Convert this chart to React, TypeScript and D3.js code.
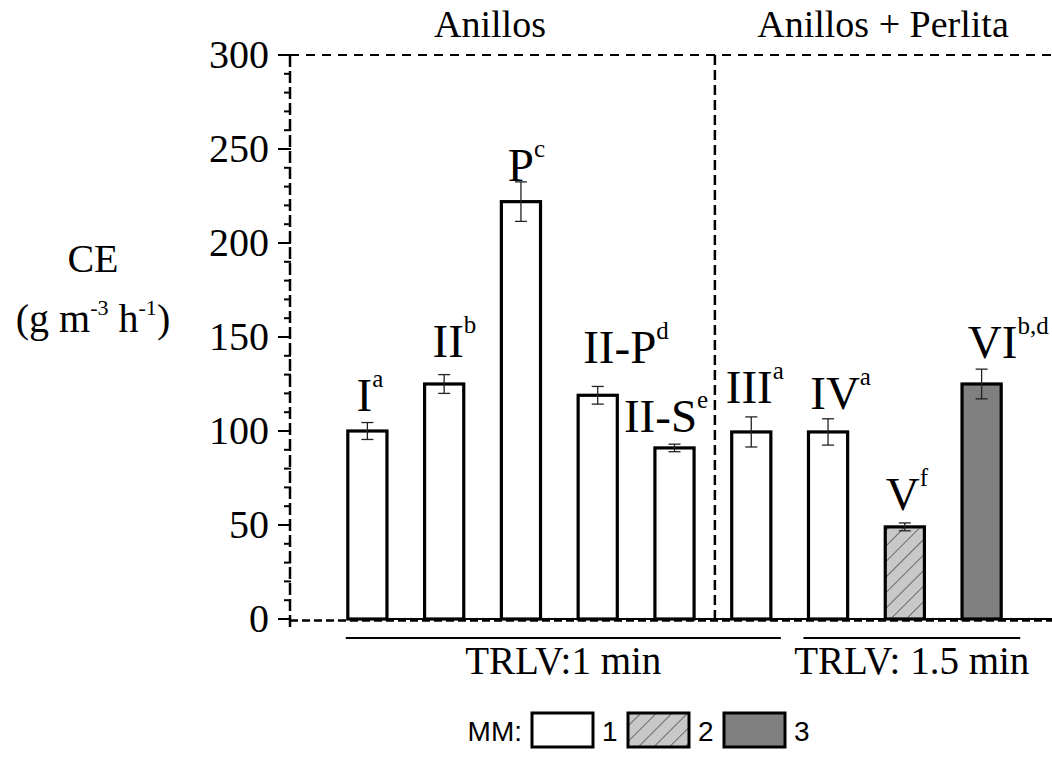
import { useEffect, useRef } from "react";
import * as d3 from "d3";

// bar data
const categories = ["I", "II", "P", "II-P", "II-S", "III", "IV", "V", "VI"];
const letters = ["a", "b", "c", "d", "e", "a", "a", "f", "b,d"];
const values = [100, 125, 222, 119, 91, 99.5, 99.5, 49, 125];
const errors = [4.5, 5, 10.5, 4.7, 2, 8, 7, 2.1, 7.9];
const mmType = [1, 1, 1, 1, 1, 1, 1, 2, 3];

// where each bar label sits, in CE units, and its sideways nudge
const labelAt = [110.6, 139.5, 233, 136, 99.6, 115, 111.7, 58, 138.8];
const labelNudge = [-3, 4, 0, 22, -14, -2, 7, -2, 11];

const yTicks = [0, 50, 100, 150, 200, 250, 300];
const panelTitles = ["Anillos", "Anillos + Perlita"];
const groupLabels = ["TRLV:1 min", "TRLV: 1.5 min"];
const legendItems = ["1", "2", "3"];

const W = 1052,
  H = 769;
const SERIF = "'Liberation Serif', 'Times New Roman', serif";
const SANS = "'Liberation Sans', Arial, sans-serif";

export default function App() {
  const ref = useRef(null);

  useEffect(() => {
    const svg = d3.select(ref.current);
    svg.selectAll("*").remove();

    const axisX = 290;
    const y = d3.scaleLinear().domain([0, 300]).range([619, 55]);
    const x = d3
      .scaleBand()
      .domain(categories)
      .range([329, 1020])
      .paddingInner(0.49)
      .paddingOuter(0.245);
    const bw = x.bandwidth();

    // hatch for MM 2
    const defs = svg.append("defs");
    const pat = defs
      .append("pattern")
      .attr("id", "hatch")
      .attr("patternUnits", "userSpaceOnUse")
      .attr("width", 11)
      .attr("height", 11)
      .attr("patternTransform", "rotate(45)");
    pat.append("rect").attr("width", 11).attr("height", 11).attr("fill", "#c8c8c8");
    pat
      .append("line")
      .attr("x1", 0)
      .attr("y1", 0)
      .attr("x2", 0)
      .attr("y2", 11)
      .attr("stroke", "#2a2a2a")
      .attr("stroke-width", 1.2);

    const fillFor = (m) => (m === 1 ? "white" : m === 2 ? "url(#hatch)" : "#808080");

    // frame: top dashed line, divider, baseline
    svg
      .append("line")
      .attr("x1", axisX)
      .attr("x2", W)
      .attr("y1", y(300))
      .attr("y2", y(300))
      .attr("stroke", "black")
      .attr("stroke-width", 2)
      .attr("stroke-dasharray", "9,7");

    const divX = (x("II-S") + bw + x("III")) / 2 + 2;
    svg
      .append("line")
      .attr("x1", divX)
      .attr("x2", divX)
      .attr("y1", y(300))
      .attr("y2", y(0))
      .attr("stroke", "black")
      .attr("stroke-width", 2.5)
      .attr("stroke-dasharray", "10,5");

    // y axis (dashed spine + ticks)
    svg
      .append("line")
      .attr("x1", axisX)
      .attr("x2", axisX)
      .attr("y1", y(300))
      .attr("y2", y(0) + 11)
      .attr("stroke", "black")
      .attr("stroke-width", 2.5)
      .attr("stroke-dasharray", "12,4");

    const minor = d3.range(0, 300, 10).filter((v) => v % 50 !== 0);
    svg
      .append("g")
      .selectAll("line")
      .data(minor)
      .join("line")
      .attr("x1", axisX - 6)
      .attr("x2", axisX + 1)
      .attr("y1", (d) => y(d))
      .attr("y2", (d) => y(d))
      .attr("stroke", "black")
      .attr("stroke-width", 2);

    svg
      .append("g")
      .selectAll("line")
      .data(yTicks)
      .join("line")
      .attr("x1", axisX - 12)
      .attr("x2", axisX + 1)
      .attr("y1", (d) => y(d))
      .attr("y2", (d) => y(d))
      .attr("stroke", "black")
      .attr("stroke-width", 2);

    svg
      .append("g")
      .selectAll("text")
      .data(yTicks)
      .join("text")
      .attr("x", axisX - 21)
      .attr("y", (d) => y(d) + 13)
      .attr("text-anchor", "end")
      .attr("font-family", SERIF)
      .attr("font-size", 40)
      .text((d) => d);

    // y label
    svg
      .append("text")
      .attr("x", 93)
      .attr("y", 272)
      .attr("text-anchor", "middle")
      .attr("font-family", SERIF)
      .attr("font-size", 40)
      .text("CE");
    const unit = svg
      .append("text")
      .attr("x", 93)
      .attr("y", 332)
      .attr("text-anchor", "middle")
      .attr("font-family", SERIF)
      .attr("font-size", 40);
    unit.append("tspan").text("(g m");
    unit.append("tspan").attr("dy", -17).attr("font-size", 22).text("-3");
    unit.append("tspan").attr("dy", 17).text(" h");
    unit.append("tspan").attr("dy", -17).attr("font-size", 22).text("-1");
    unit.append("tspan").attr("dy", 17).text(")");

    // bars
    const data = categories.map((c, i) => ({
      c,
      v: values[i],
      e: errors[i],
      m: mmType[i],
      sup: letters[i],
      ly: labelAt[i],
      dx: labelNudge[i],
    }));

    svg
      .append("g")
      .selectAll("rect")
      .data(data)
      .join("rect")
      .attr("x", (d) => x(d.c))
      .attr("y", (d) => y(d.v))
      .attr("width", bw)
      .attr("height", (d) => y(0) - y(d.v))
      .attr("fill", (d) => fillFor(d.m))
      .attr("stroke", "black")
      .attr("stroke-width", 3.2);

    // baseline: solid under the bars plus the dashed frame edge
    svg
      .append("line")
      .attr("x1", x("I"))
      .attr("x2", W)
      .attr("y1", y(0))
      .attr("y2", y(0))
      .attr("stroke", "black")
      .attr("stroke-width", 2);
    svg
      .append("line")
      .attr("x1", axisX)
      .attr("x2", W)
      .attr("y1", y(0) + 1.5)
      .attr("y2", y(0) + 1.5)
      .attr("stroke", "black")
      .attr("stroke-width", 2.5)
      .attr("stroke-dasharray", "8,4");

    // error bars
    const eg = svg.append("g").attr("stroke", "#222").attr("stroke-width", 1.3);
    data.forEach((d) => {
      const cx = x(d.c) + bw / 2;
      eg.append("line")
        .attr("x1", cx)
        .attr("x2", cx)
        .attr("y1", y(d.v + d.e))
        .attr("y2", y(d.v - d.e));
      [d.v + d.e, d.v - d.e].forEach((v) => {
        eg.append("line")
          .attr("x1", cx - 6)
          .attr("x2", cx + 6)
          .attr("y1", y(v))
          .attr("y2", y(v));
      });
    });

    // bar labels with superscript letters
    data.forEach((d) => {
      const cx = x(d.c) + bw / 2;
      const t = svg
        .append("text")
        .attr("y", y(d.ly))
        .attr("font-family", SERIF)
        .attr("font-size", 47);
      const main = t.append("tspan").text(d.c);
      t.append("tspan").attr("dy", -24).attr("font-size", 25).text(d.sup);
      const len = main.node().getComputedTextLength();
      t.attr("x", cx + d.dx - len / 2);
    });

    // panel titles
    [490, 883].forEach((px, i) => {
      svg
        .append("text")
        .attr("x", px)
        .attr("y", 37)
        .attr("text-anchor", "middle")
        .attr("font-family", SERIF)
        .attr("font-size", 38)
        .text(panelTitles[i]);
    });

    // TRLV groups
    const spans = [
      [x("I") - 2, x("III") + bw + 10],
      [x("IV") - 5, x("VI") + bw + 19],
    ];
    spans.forEach(([a, b], i) => {
      svg
        .append("line")
        .attr("x1", a)
        .attr("x2", b)
        .attr("y1", 638)
        .attr("y2", 638)
        .attr("stroke", "black")
        .attr("stroke-width", 2);
      svg
        .append("text")
        .attr("x", (a + b) / 2)
        .attr("y", 674)
        .attr("text-anchor", "middle")
        .attr("font-family", SERIF)
        .attr("font-size", 39)
        .text(groupLabels[i]);
    });

    // legend
    svg
      .append("text")
      .attr("x", 522)
      .attr("y", 741)
      .attr("text-anchor", "end")
      .attr("font-family", SANS)
      .attr("font-size", 28)
      .text("MM:");
    legendItems.forEach((lab, i) => {
      const lx = 532 + i * 96;
      svg
        .append("rect")
        .attr("x", lx)
        .attr("y", 713)
        .attr("width", 61)
        .attr("height", 34)
        .attr("fill", fillFor(i + 1))
        .attr("stroke", "black")
        .attr("stroke-width", 3);
      svg
        .append("text")
        .attr("x", lx + 70)
        .attr("y", 741)
        .attr("font-family", SANS)
        .attr("font-size", 28)
        .text(lab);
    });
  }, []);

  return (
    <svg
      ref={ref}
      width={W}
      height={H}
      style={{ position: "absolute", left: 0, top: 0, background: "white" }}
    />
  );
}
